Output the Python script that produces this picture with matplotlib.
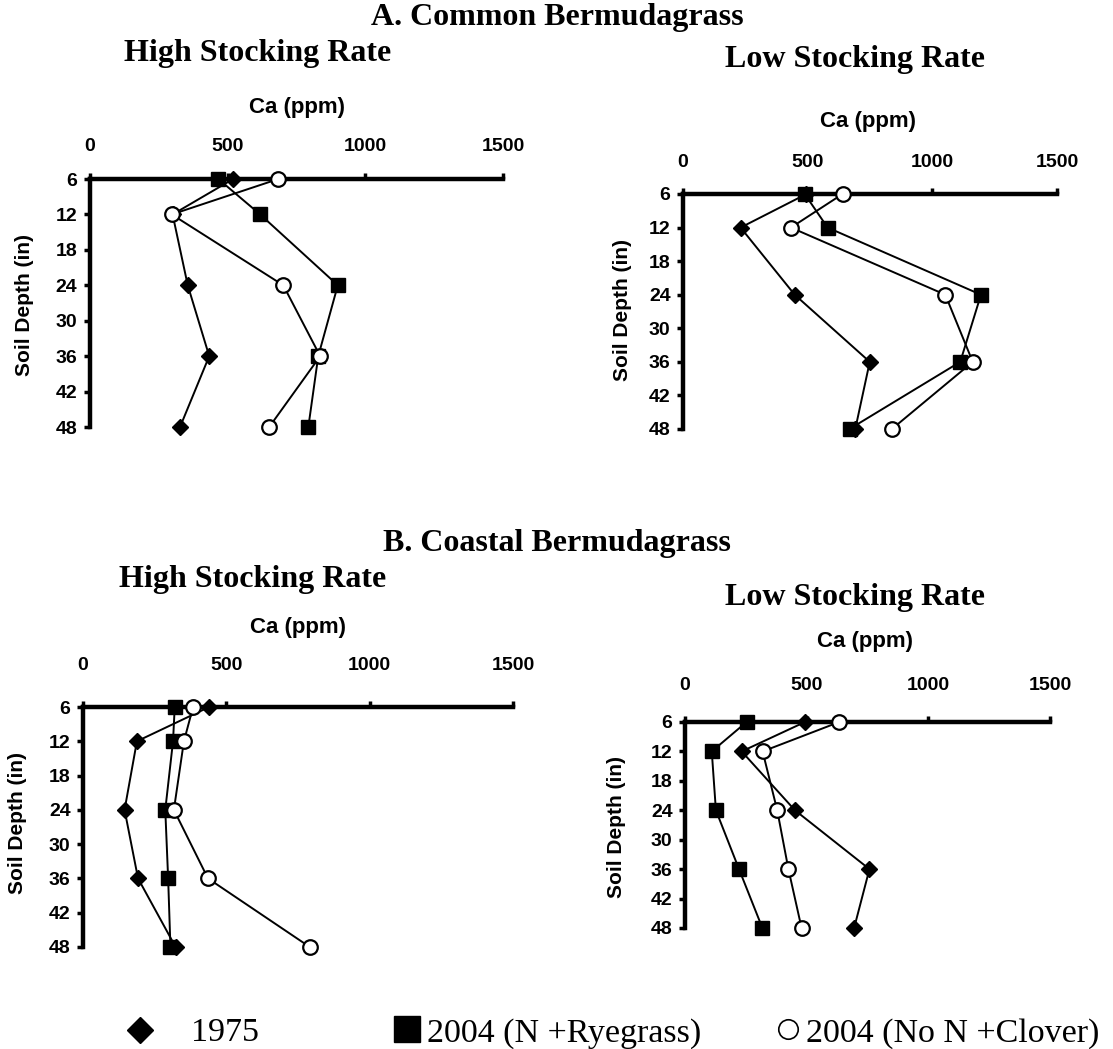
import matplotlib
matplotlib.use("Agg")
import matplotlib.pyplot as plt
from matplotlib.lines import Line2D

W, H = 1113, 1049

depth = [6, 12, 24, 36, 48]
xticks = [0, 500, 1000, 1500]
yticks = [6, 12, 18, 24, 30, 36, 42, 48]

# A. Common Bermudagrass
a_high_1975 = [520, 300, 355, 433, 327]
a_high_n_rye = [466, 618, 900, 829, 793]
a_high_clover = [684, 297, 702, 836, 651]

a_low_1975 = [495, 231, 448, 749, 691]
a_low_n_rye = [488, 580, 1195, 1112, 668]
a_low_clover = [640, 433, 1052, 1162, 838]

# B. Coastal Bermudagrass
b_high_1975 = [440, 188, 145, 192, 323]
b_high_n_rye = [320, 314, 287, 297, 305]
b_high_clover = [384, 352, 317, 436, 791]

b_low_1975 = [493, 233, 452, 758, 695]
b_low_n_rye = [253, 110, 127, 222, 318]
b_low_clover = [634, 319, 379, 425, 479]

labels = ["1975", "2004 (N +Ryegrass)", "2004 (No N +Clover)"]

fig = plt.figure(figsize=(W / 100, H / 100), dpi=100)
fig.patch.set_facecolor("white")

SANS = "Liberation Sans"
SERIF = "Liberation Serif"


def px_axes(l, r, t, b):
    return fig.add_axes([l / W, 1 - b / H, (r - l) / W, (b - t) / H])


panels = [
    # (l, r, t, b), series, tick pad (pt), ca pos, ylabel pos
    ((90, 503, 179, 427), (a_high_1975, a_high_n_rye, a_high_clover), 13, (297, 108), (25, 305)),
    ((683, 1057, 194, 429), (a_low_1975, a_low_n_rye, a_low_clover), 12.5, (868, 122), (622, 310)),
    ((83, 513, 707, 947), (b_high_1975, b_high_n_rye, b_high_clover), 20, (298, 628), (18, 823)),
    ((685, 1050, 722, 928), (b_low_1975, b_low_n_rye, b_low_clover), 16.5, (865, 642), (617, 827)),
]

for (box, series, pad, capos, ylpos) in panels:
    ax = px_axes(*box)
    s1975, srye, sclv = series
    ax.plot(s1975, depth, color="black", lw=1.4, marker="D", ms=8.5,
            mfc="black", mec="black", clip_on=False, zorder=3)
    ax.plot(srye, depth, color="black", lw=1.4, marker="s", ms=10.5,
            mfc="black", mec="black", clip_on=False, zorder=4)
    ax.plot(sclv, depth, color="black", lw=1.4, marker="o", ms=10.5,
            mfc="white", mec="black", mew=1.6, clip_on=False, zorder=5)
    ax.set_xlim(0, 1500)
    ax.set_ylim(48, 6)
    ax.set_xticks(xticks)
    ax.set_yticks(yticks)
    ax.xaxis.tick_top()
    for s in ("right", "bottom"):
        ax.spines[s].set_visible(False)
    for s in ("top", "left"):
        ax.spines[s].set_linewidth(3.2)
        ax.spines[s].set_color("black")
    ax.tick_params(axis="x", which="both", direction="out", length=4, width=2.5,
                   pad=pad, labelsize=14)
    ax.tick_params(axis="y", which="both", direction="out", length=4, width=2.5,
                   pad=5, labelsize=14)
    for lab in ax.get_xticklabels() + ax.get_yticklabels():
        lab.set_fontweight("bold")
        lab.set_fontfamily(SANS)
    ax.patch.set_alpha(0)
    fig.text(capos[0] / W, 1 - capos[1] / H, "Ca (ppm)", ha="center", va="center",
             fontsize=16, fontweight="bold", family=SANS)
    fig.text(ylpos[0] / W, 1 - ylpos[1] / H, "Soil Depth (in)", ha="center", va="center",
             rotation=90, fontsize=15, fontweight="bold", family=SANS)


def title(x, y, s, size=23):
    fig.text(x / W, 1 - y / H, s, ha="center", va="center", fontsize=size,
             fontweight="bold", family=SERIF)

title(557, 18, "A. Common Bermudagrass")
title(258, 53, "High Stocking Rate")
title(855, 60, "Low Stocking Rate")
title(557, 544, "B. Coastal Bermudagrass")
title(253, 580, "High Stocking Rate")
title(855, 597, "Low Stocking Rate")

# Legend (three entries placed along the bottom)
handles = [
    Line2D([], [], ls="none", marker="D", ms=13, mfc="black", mec="black"),
    Line2D([], [], ls="none", marker="s", ms=19, mfc="black", mec="black"),
    Line2D([], [], ls="none", marker="o", ms=14, mfc="white", mec="black", mew=1.2),
]
# (anchor x in px, handletextpad)
leg_pos = [(123, 1.0), (390, 0.08), (771, 0.03)]
for h, lab, (xp, tpad) in zip(handles, labels, leg_pos):
    fig.legend([h], [lab], loc="center left", bbox_to_anchor=(xp / W, 1 - 1033 / H),
               frameon=False, handlelength=1.0, handletextpad=tpad, borderpad=0,
               borderaxespad=0, prop={"family": SERIF, "size": 24.5})

fig.savefig("out.png", dpi=100, facecolor="white")
